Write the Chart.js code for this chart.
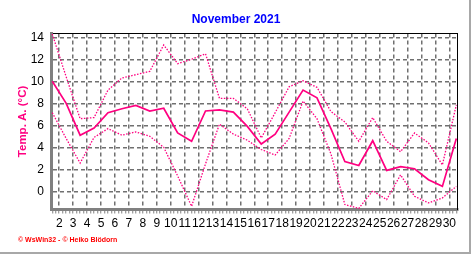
<!DOCTYPE html>
<html>
<head>
<meta charset="utf-8">
<script src="https://cdn.jsdelivr.net/npm/chart.js@4"></script>
<style>
  body { margin: 0; background: #fff; }
  #wrap { position: relative; width: 472px; height: 255px; overflow: hidden; }
  #frameR { position: absolute; left: 469px; top: 0; width: 2px; height: 254px; background: #a8a8a8; }
  #frameB { position: absolute; left: 0; top: 252px; width: 471px; height: 2px; background: #a8a8a8; }
  #credit { position: absolute; left: 18px; top: 236px; font: bold 7px "Liberation Sans", Arial, sans-serif; color: #ff0000; white-space: nowrap; }
</style>
</head>
<body>
<div id="wrap">
  <canvas id="chart1" width="472" height="255"></canvas>
  <div id="frameR"></div>
  <div id="frameB"></div>
  <div id="credit">© WsWin32 - © Heiko Blödorn</div>
</div>
<script>
// November 2021, daily values (plotted at midday of each day)
const days = [1, 2, 3, 4, 5, 6, 7, 8, 9, 10, 11, 12, 13, 14, 15, 16, 17, 18, 19, 20, 21, 22, 23, 24, 25, 26, 27, 28, 29, 30];
const tMax = [14.3, 10.4, 6.6, 6.7, 9.2, 10.3, 10.6, 10.9, 13.3, 11.6, 12.0, 12.5, 8.45, 8.45, 7.5, 4.85, 7.15, 9.5, 10.05, 9.45, 7.25, 6.3, 4.55, 6.7, 4.55, 3.6, 5.3, 4.4, 2.4, 7.85];
const tMean = [10.0, 8.0, 5.1, 5.75, 7.15, 7.5, 7.8, 7.3, 7.55, 5.3, 4.55, 7.3, 7.4, 7.2, 5.9, 4.3, 5.2, 7.2, 9.2, 8.5, 5.7, 2.7, 2.35, 4.6, 1.9, 2.25, 2.05, 1.05, 0.45, 4.8];
const tMin = [7.15, 4.8, 2.57, 4.9, 5.7, 5.1, 5.4, 5.0, 4.0, 1.4, -1.36, 2.5, 6.1, 5.2, 4.65, 3.8, 3.3, 4.8, 8.2, 6.6, 3.4, -1.2, -1.55, 0.05, -0.75, 1.5, -0.45, -1.05, -0.6, 0.45];
const yTicks = [0, 2, 4, 6, 8, 10, 12, 14];

const pink = '#ff0080';
const gridGray = '#707070';
const axisGray = '#808080';

const pts = vals => days.map((d, i) => ({ x: d + 0.5, y: vals[i] }));

const ctx1 = document.getElementById('chart1');

new Chart(ctx1, {
  type: 'line',
  data: {
    datasets: [
      { label: 'max', data: pts(tMax), borderColor: pink, borderWidth: 1.3, borderDash: [1.5, 1.5] },
      { label: 'mean', data: pts(tMean), borderColor: pink, borderWidth: 1.7 },
      { label: 'min', data: pts(tMin), borderColor: pink, borderWidth: 1.3, borderDash: [1.5, 1.5] }
    ]
  },
  options: {
    responsive: false,
    animation: false,
    devicePixelRatio: 1,
    layout: { padding: 0 },
    elements: { point: { radius: 0 }, line: { tension: 0 } },
    plugins: {
      legend: { display: false },
      tooltip: { enabled: false },
      title: {
        display: true,
        text: 'November 2021',
        color: '#0000ff',
        font: { family: 'Liberation Sans', size: 12, weight: 'bold' },
        padding: { top: 12, bottom: 7 }
      }
    },
    scales: {
      x: {
        type: 'linear',
        min: 1.41,
        max: 30.57,
        afterFit: s => { s.height = 45.5; },
        ticks: {
          stepSize: 0.25,
          maxTicksLimit: 200,
          autoSkip: false,
          maxRotation: 0,
          includeBounds: false,
          padding: 3,
          color: '#000',
          font: { family: 'Liberation Sans', size: 12 },
          callback: v => Number.isInteger(v) ? String(v) : ''
        },
        grid: {
          display: true,
          drawOnChartArea: true,
          color: c => (c.tick && Number.isInteger(c.tick.value)) ? gridGray : 'rgba(255,255,255,0)',
          lineWidth: 1.5,
          tickColor: axisGray,
          tickWidth: 1,
          tickLength: 4
        },
        border: { color: axisGray, width: 3, dash: [4, 3] }
      },
      x2: {
        type: 'linear',
        position: 'top',
        afterFit: s => { s.height = 0; },
        ticks: { display: false },
        grid: { display: false, drawTicks: false },
        border: { color: '#000', width: 1 }
      },
      y: {
        min: -1.65,
        max: 14.35,
        afterFit: s => { s.width = 51; },
        afterBuildTicks: s => { s.ticks = yTicks.map(v => ({ value: v })); },
        ticks: {
          padding: 7,
          color: '#000',
          font: { family: 'Liberation Sans', size: 12 }
        },
        grid: { display: true, color: gridGray, lineWidth: 1.5, drawTicks: false },
        border: { color: axisGray, width: 3, dash: [4, 3] },
        title: {
          display: true,
          text: 'Temp. A. (°C)',
          color: pink,
          font: { family: 'Liberation Sans', size: 11.5, weight: 'bold' },
          padding: { top: 16, bottom: 0 }
        }
      },
      y2: {
        type: 'linear',
        position: 'right',
        afterFit: s => { s.width = 14.7; },
        ticks: { display: false },
        grid: { display: false, drawTicks: false },
        border: { color: '#000', width: 1 }
      }
    }
  }
});
</script>
</body>
</html>
